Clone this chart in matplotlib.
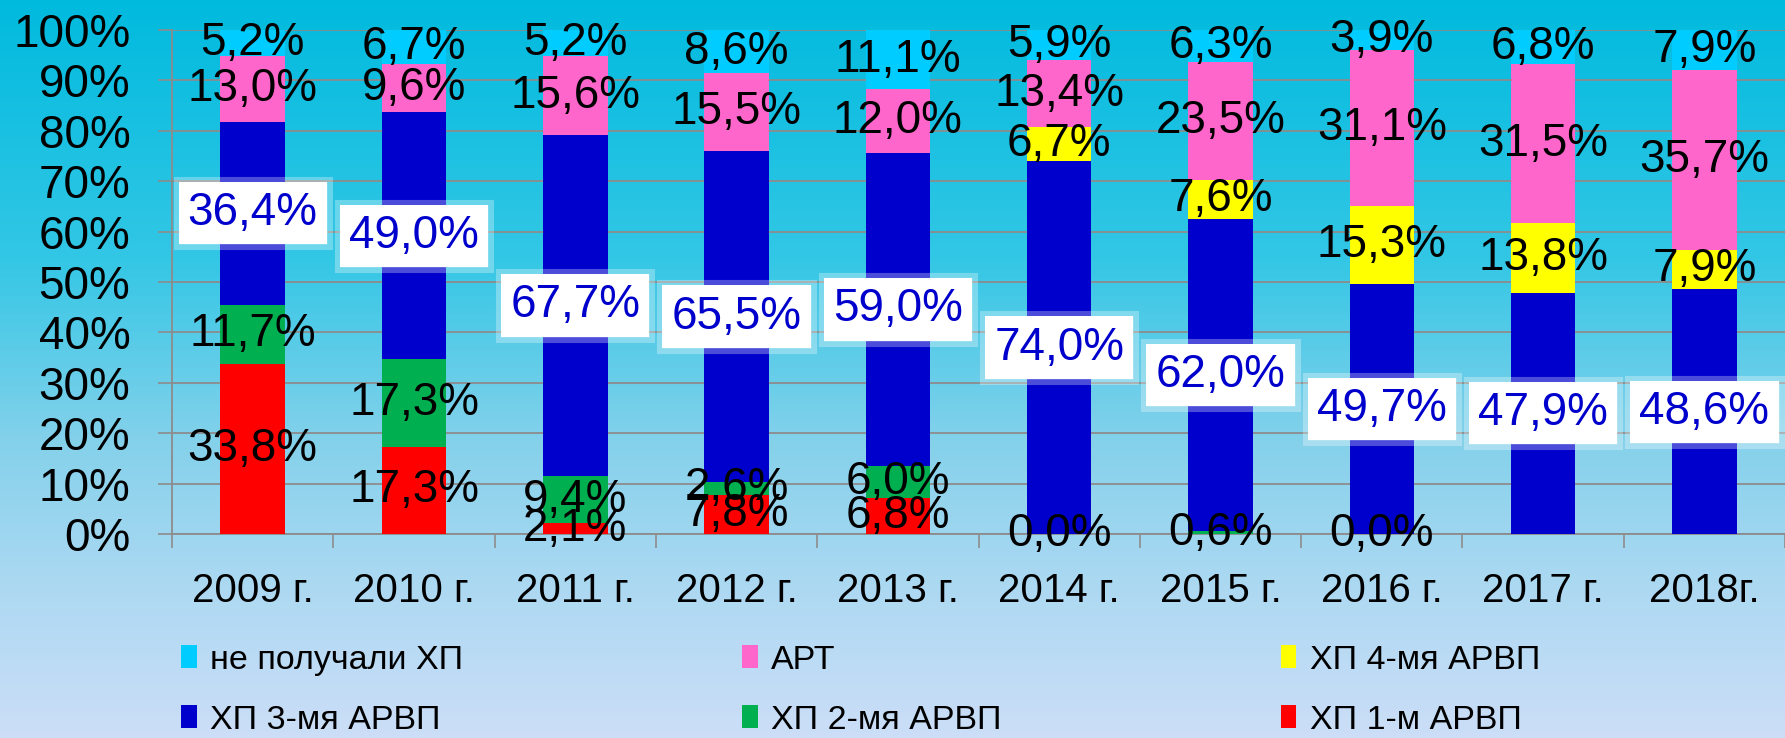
import numpy as np
import matplotlib
matplotlib.use('Agg')
import matplotlib.pyplot as plt
import matplotlib.patheffects as pe
from matplotlib.colors import LinearSegmentedColormap

plt.rcParams['font.family'] = ['Liberation Sans', 'DejaVu Sans']

# Data -------------------------
years = ['2009 г.', '2010 г.', '2011 г.', '2012 г.', '2013 г.',
         '2014 г.', '2015 г.', '2016 г.', '2017 г.', '2018г.']
nan = np.nan
hp1 = [33.8, 17.3, 2.1, 7.8, 6.8, nan, nan, nan, nan, nan]       # ХП 1-м АРВП
hp2 = [11.7, 17.3, 9.4, 2.6, 6.0, 0.0, 0.6, 0.0, nan, nan]       # ХП 2-мя АРВП
hp3 = [36.4, 49.0, 67.7, 65.5, 59.0, 74.0, 62.0, 49.7, 47.9, 48.6]  # ХП 3-мя АРВП
hp4 = [nan, nan, nan, nan, nan, 6.7, 7.6, 15.3, 13.8, 7.9]       # ХП 4-мя АРВП
art = [13.0, 9.6, 15.6, 15.5, 12.0, 13.4, 23.5, 31.1, 31.5, 35.7]  # АРТ
none_hp = [5.2, 6.7, 5.2, 8.6, 11.1, 5.9, 6.3, 3.9, 6.8, 7.9]    # не получали ХП

series = [
    ('ХП 1-м АРВП', hp1, '#FF0000'),
    ('ХП 2-мя АРВП', hp2, '#00B050'),
    ('ХП 3-мя АРВП', hp3, '#0000CC'),
    ('ХП 4-мя АРВП', hp4, '#FFFF00'),
    ('АРТ', art, '#FF66CC'),
    ('не получали ХП', none_hp, '#00CCFF'),
]

def fmt(v):
    return '{:.1f}%'.format(v).replace('.', ',')

fig = plt.figure(figsize=(17.85, 7.38), dpi=100)

# background gradient
bg = fig.add_axes([0, 0, 1, 1], zorder=-10)
cmap_bg = LinearSegmentedColormap.from_list('bg', [
    (0.0, (0.00, 0.73, 0.87)),
    (0.35, (0.20, 0.78, 0.90)),
    (0.6, (0.52, 0.82, 0.92)),
    (0.8, (0.68, 0.85, 0.95)),
    (1.0, (0.80, 0.87, 0.97))])
bg.imshow(np.linspace(0, 1, 256).reshape(-1, 1), aspect='auto', cmap=cmap_bg,
          extent=[0, 1, 0, 1], origin='upper')
bg.axis('off')

ax = fig.add_axes([0.0964, 0.2764, 0.9036, 0.6829])
ax.set_facecolor('none')

x = np.arange(len(years))
raw = np.array([s[1] for s in series], dtype=float)
totals = np.nansum(raw, axis=0)
pct = np.nan_to_num(raw) / totals * 100

bottom = np.zeros(len(years))
handles = {}
for i, (name, vals, col) in enumerate(series):
    b = ax.bar(x, pct[i], 0.4, bottom=bottom, color=col, zorder=3, label=name)
    handles[name] = b
    for j, v in enumerate(vals):
        if np.isnan(v):
            continue
        yc = bottom[j] + pct[i][j] / 2
        if name == 'ХП 3-мя АРВП':
            t = ax.text(x[j], yc, fmt(v), ha='center', va='center', fontsize=33,
                        color='#0000CC', zorder=6,
                        bbox=dict(boxstyle='square,pad=0.2', fc='white', ec='none'))
            t.get_bbox_patch().set_path_effects(
                [pe.withStroke(linewidth=8, foreground='white', alpha=0.3)])
        else:
            ax.text(x[j], yc, fmt(v), ha='center', va='center', fontsize=33,
                    color='black', zorder=5)
    bottom = bottom + pct[i]

ax.set_xlim(-0.5, len(years) - 0.5)
ax.set_ylim(0, 100)
ax.set_yticks(np.arange(0, 101, 10))
ax.set_yticklabels(['{}%'.format(v) for v in range(0, 101, 10)])
ax.set_xticks(x)
ax.set_xticklabels(years, fontsize=29)
ax.set_xticks(np.arange(-0.5, len(years), 1), minor=True)
ax.tick_params(axis='y', labelsize=33, length=10, width=1.2, color='#8c8c8c', pad=20)
ax.tick_params(axis='x', which='major', length=0, pad=27)
ax.tick_params(axis='x', which='minor', length=10, width=1.2, color='#8c8c8c')
ax.yaxis.grid(True, color='#8c8c8c', linewidth=1.3, zorder=0)
ax.set_axisbelow(True)
for s in ['top', 'right']:
    ax.spines[s].set_visible(False)
for s in ['left', 'bottom']:
    ax.spines[s].set_color('#8c8c8c')
    ax.spines[s].set_linewidth(1.3)

# legend, column-wise order
order = ['не получали ХП', 'ХП 3-мя АРВП', 'АРТ', 'ХП 2-мя АРВП',
         'ХП 4-мя АРВП', 'ХП 1-м АРВП']
leg = fig.legend([handles[n] for n in order], order, ncol=3, frameon=False,
                 fontsize=24.5, loc='upper left', bbox_to_anchor=(0.094, 0.145),
                 handlelength=0.45, handleheight=0.65, handletextpad=0.4,
                 columnspacing=8.2, labelspacing=0.85, borderaxespad=0)

fig.savefig('out.png', dpi=100)
